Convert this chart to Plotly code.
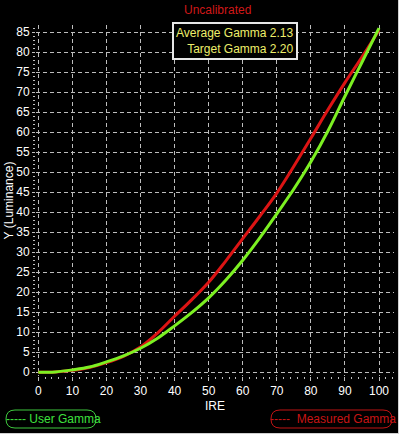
import plotly.graph_objects as go

ire = [0, 5, 10, 15, 20, 25, 30, 35, 40, 45, 50, 55, 60, 65, 70, 75, 80, 85, 90, 95, 100]
user_gamma = [0, 0.1, 0.6, 1.3, 2.6, 4.1, 6.0, 8.5, 11.6, 14.9, 18.6, 23.0, 28.0, 33.6, 39.6, 45.8, 52.6, 60.3, 69.0, 77.5, 86.0]
measured_gamma = [0, 0.1, 0.5, 1.2, 2.4, 4.0, 6.3, 9.8, 14.0, 18.1, 22.5, 27.8, 33.4, 39.0, 44.8, 51.5, 58.5, 65.6, 72.4, 78.8, 85.5]

title_text = "Uncalibrated"
info_lines = ["Average Gamma 2.13", "Target Gamma 2.20"]
legend_user = "----- User Gamma"
legend_measured = "-----  Measured Gamma"

W, H = 399, 434
L, R, T, B = 36, 5, 25, 58
pw, ph = W - L - R, H - T - B

def xp(px):
    return (px - L) / pw

def yp(py):
    return (H - B - py) / ph

FONT = "Liberation Sans, Arial, sans-serif"
GREEN = "#7cf022"
RED = "#dc1414"

fig = go.Figure()
fig.add_trace(go.Scatter(x=ire, y=measured_gamma, mode="lines",
                         line=dict(color=RED, width=3, shape="spline", smoothing=1.0),
                         name="Measured Gamma", showlegend=False))
fig.add_trace(go.Scatter(x=ire, y=user_gamma, mode="lines",
                         line=dict(color=GREEN, width=3, shape="spline", smoothing=1.0),
                         name="User Gamma", showlegend=False))

grid = dict(showgrid=True, gridcolor="#bdbdbd", gridwidth=1, griddash="4px,3px",
            zeroline=False, showline=False, color="white",
            tickfont=dict(family=FONT, size=12, color="white"))

fig.update_xaxes(range=[-0.68, 104.4], tickmode="linear", tick0=0, dtick=10,
                 ticks="outside", ticklen=4, tickcolor="#bdbdbd",
                 minor=dict(dtick=2, ticks="outside", ticklen=2, tickcolor="#bdbdbd", showgrid=False),
                 title=dict(text="IRE", font=dict(family=FONT, size=12, color="white"), standoff=4),
                 **grid)
fig.update_yaxes(range=[-0.93, 86.8], tickmode="linear", tick0=0, dtick=5,
                 ticks="outside", ticklen=3, tickcolor="#bdbdbd",
                 minor=dict(dtick=1, ticks="outside", ticklen=2, tickcolor="#bdbdbd", showgrid=False),
                 title=dict(text="Y (Luminance)", font=dict(family=FONT, size=12, color="white"), standoff=0),
                 **grid)

annotations = [
    dict(text=title_text, x=xp(217), y=yp(10), xref="paper", yref="paper",
         showarrow=False, xanchor="center", yanchor="middle",
         font=dict(family=FONT, size=12, color="#d01818")),
    dict(text="<br>".join(info_lines), x=xp(235), y=yp(41), xref="paper", yref="paper",
         showarrow=False, xanchor="center", yanchor="middle", align="right",
         bgcolor="black", bordercolor="#e6e6e6", borderwidth=2, borderpad=2,
         font=dict(family=FONT, size=12, color="#eeee6a")),
    dict(text=legend_user, x=xp(53), y=yp(419), xref="paper", yref="paper",
         showarrow=False, xanchor="center", yanchor="middle",
         font=dict(family=FONT, size=12, color="#3ee03e")),
    dict(text=legend_measured, x=xp(333), y=yp(419), xref="paper", yref="paper",
         showarrow=False, xanchor="center", yanchor="middle",
         font=dict(family=FONT, size=12, color="#c81414")),
]

def rounded_rect(x0, y0, x1, y1, r):
    def P(x, y):
        return f"{xp(x):.5f},{yp(y):.5f}"
    return (f"M {P(x0 + r, y0)} L {P(x1 - r, y0)} Q {P(x1, y0)} {P(x1, y0 + r)} "
            f"L {P(x1, y1 - r)} Q {P(x1, y1)} {P(x1 - r, y1)} "
            f"L {P(x0 + r, y1)} Q {P(x0, y1)} {P(x0, y1 - r)} "
            f"L {P(x0, y0 + r)} Q {P(x0, y0)} {P(x0 + r, y0)} Z")

shapes = [
    dict(type="path", path=rounded_rect(6, 410, 96, 428, 9), xref="paper", yref="paper",
         line=dict(color="#3ec83e", width=1)),
    dict(type="path", path=rounded_rect(271, 410, 392, 428, 9), xref="paper", yref="paper",
         line=dict(color="#c01414", width=1)),
    dict(type="line", x0=xp(0), x1=xp(399), y0=yp(433.5), y1=yp(433.5), xref="paper", yref="paper",
         line=dict(color="#d0d0d0", width=1)),
    dict(type="line", x0=xp(398.5), x1=xp(398.5), y0=yp(0), y1=yp(434), xref="paper", yref="paper",
         line=dict(color="#d0d0d0", width=1)),
]

fig.update_layout(width=W, height=H, margin=dict(l=L, r=R, t=T, b=B, pad=0),
                  paper_bgcolor="black", plot_bgcolor="black",
                  font=dict(family=FONT, color="white"),
                  annotations=annotations, shapes=shapes, showlegend=False)

fig.write_html("out.html", config=dict(displayModeBar=False))
